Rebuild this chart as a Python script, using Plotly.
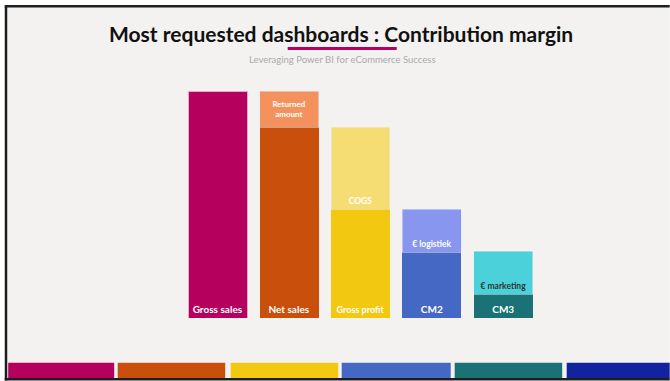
import plotly.graph_objects as go

# ---- data ----
categories = ["Gross sales", "Net sales", "Gross profit", "CM2", "CM3"]
base_values = [100, 84, 48, 29, 10.5]
base_labels = ["Gross sales", "Net sales", "Gross profit", "CM2", "CM3"]
cost_values = [None, None, 36, 19, 19]
cost_labels = ["", "", "COGS", "€ logistiek", "€ marketing"]
returned_values = [None, 16, None, None, None]
returned_labels = ["", "Returned<br>amount", "", "", ""]

base_colors = ["#B5005E", "#C94F0C", "#F2C811", "#4468C4", "#1A7276"]
cost_colors = ["#F4925D", "#F4925D", "#F6DD73", "#8896F0", "#4AD1D9"]
cost_text_colors = ["white", "white", "white", "white", "#333333"]
strip_colors = ["#B5005E", "#C94F0C", "#F2C811", "#4468C4", "#1A7276", "#12239E"]

W, H = 670, 381
ML, MR, MT, MB = 182.3, 130.7, 91, 63
PW, PH = W - ML - MR, H - MT - MB


def px2x(p):
    return (p - ML) / PW


def px2y(p):
    return (H - MB - p) / PH


def bold(labels):
    return [f"<b>{t}</b>" if t else "" for t in labels]


FONT = "Lato, 'Open Sans', sans-serif"

fig = go.Figure()
fig.add_trace(go.Bar(
    x=categories, y=base_values, text=bold(base_labels),
    marker=dict(color=base_colors, line=dict(width=[1, 0, 0, 0, 0], color="#E9A6C8")),
    textposition="inside", insidetextanchor="start",
    textfont=dict(color="white", size=[10, 10, 9, 10, 10], family=FONT),
    hoverinfo="skip",
))
fig.add_trace(go.Bar(
    x=categories, y=returned_values, text=bold(returned_labels),
    marker=dict(color=cost_colors),
    textposition="inside", insidetextanchor="middle",
    textfont=dict(color="white", size=8, family=FONT),
    hoverinfo="skip",
))
fig.add_trace(go.Bar(
    x=categories, y=cost_values, text=bold(cost_labels),
    marker=dict(color=cost_colors),
    textposition="inside", insidetextanchor="start",
    textfont=dict(color=cost_text_colors, size=8.5, family=FONT),
    hoverinfo="skip",
))

shapes = []
# background panel
shapes.append(dict(type="rect", xref="paper", yref="paper",
                   x0=px2x(6.3), x1=px2x(W), y0=px2y(6.3), y1=px2y(379.3),
                   fillcolor="#F3F2F0", line=dict(width=0), layer="below"))
# bottom colour strip
strip_x = [(8.5, 114.5), (118, 225.5), (231, 338.5), (342, 451), (455, 562.5), (567, W)]
for (a, b), c in zip(strip_x, strip_colors):
    shapes.append(dict(type="rect", xref="paper", yref="paper",
                       x0=px2x(a), x1=px2x(b), y0=px2y(362.7), y1=px2y(378),
                       fillcolor=c, line=dict(width=0), layer="below"))
# dark frame: left, top, bottom
frame = [((6.3, 6.3), (6.3, 380.5)), ((5, 6.3), (W, 6.3)), ((5, 379.3), (W, 379.3))]
for (xa, ya), (xb, yb) in frame:
    shapes.append(dict(type="line", xref="paper", yref="paper",
                       x0=px2x(xa), x1=px2x(xb), y0=px2y(ya), y1=px2y(yb),
                       line=dict(color="#1E1E1E", width=2.5), layer="below"))
# title underline
shapes.append(dict(type="line", xref="paper", yref="paper",
                   x0=px2x(288), x1=px2x(397), y0=px2y(48.5), y1=px2y(48.5),
                   line=dict(color="#B5005E", width=3)))

annotations = [
    dict(text="<b>Most requested dashboards : Contribution margin</b>",
         xref="paper", yref="paper", x=px2x(341), y=px2y(33),
         xanchor="center", yanchor="middle", showarrow=False,
         font=dict(family=FONT, size=21, color="#111111")),
    dict(text="Leveraging Power BI for eCommerce Success",
         xref="paper", yref="paper", x=px2x(343), y=px2y(59.5),
         xanchor="center", yanchor="middle", showarrow=False,
         font=dict(family=FONT, size=9.5, color="#AAAAAA")),
]

fig.update_layout(
    width=W, height=H,
    margin=dict(l=ML, r=MR, t=MT, b=MB, pad=0),
    paper_bgcolor="white", plot_bgcolor="rgba(0,0,0,0)",
    barmode="stack", bargap=0.174, showlegend=False,
    xaxis=dict(visible=False, fixedrange=True),
    yaxis=dict(visible=False, range=[0, 100], fixedrange=True),
    shapes=shapes, annotations=annotations,
    font=dict(family=FONT),
)

fig.write_html("out.html", config={"displayModeBar": False})
